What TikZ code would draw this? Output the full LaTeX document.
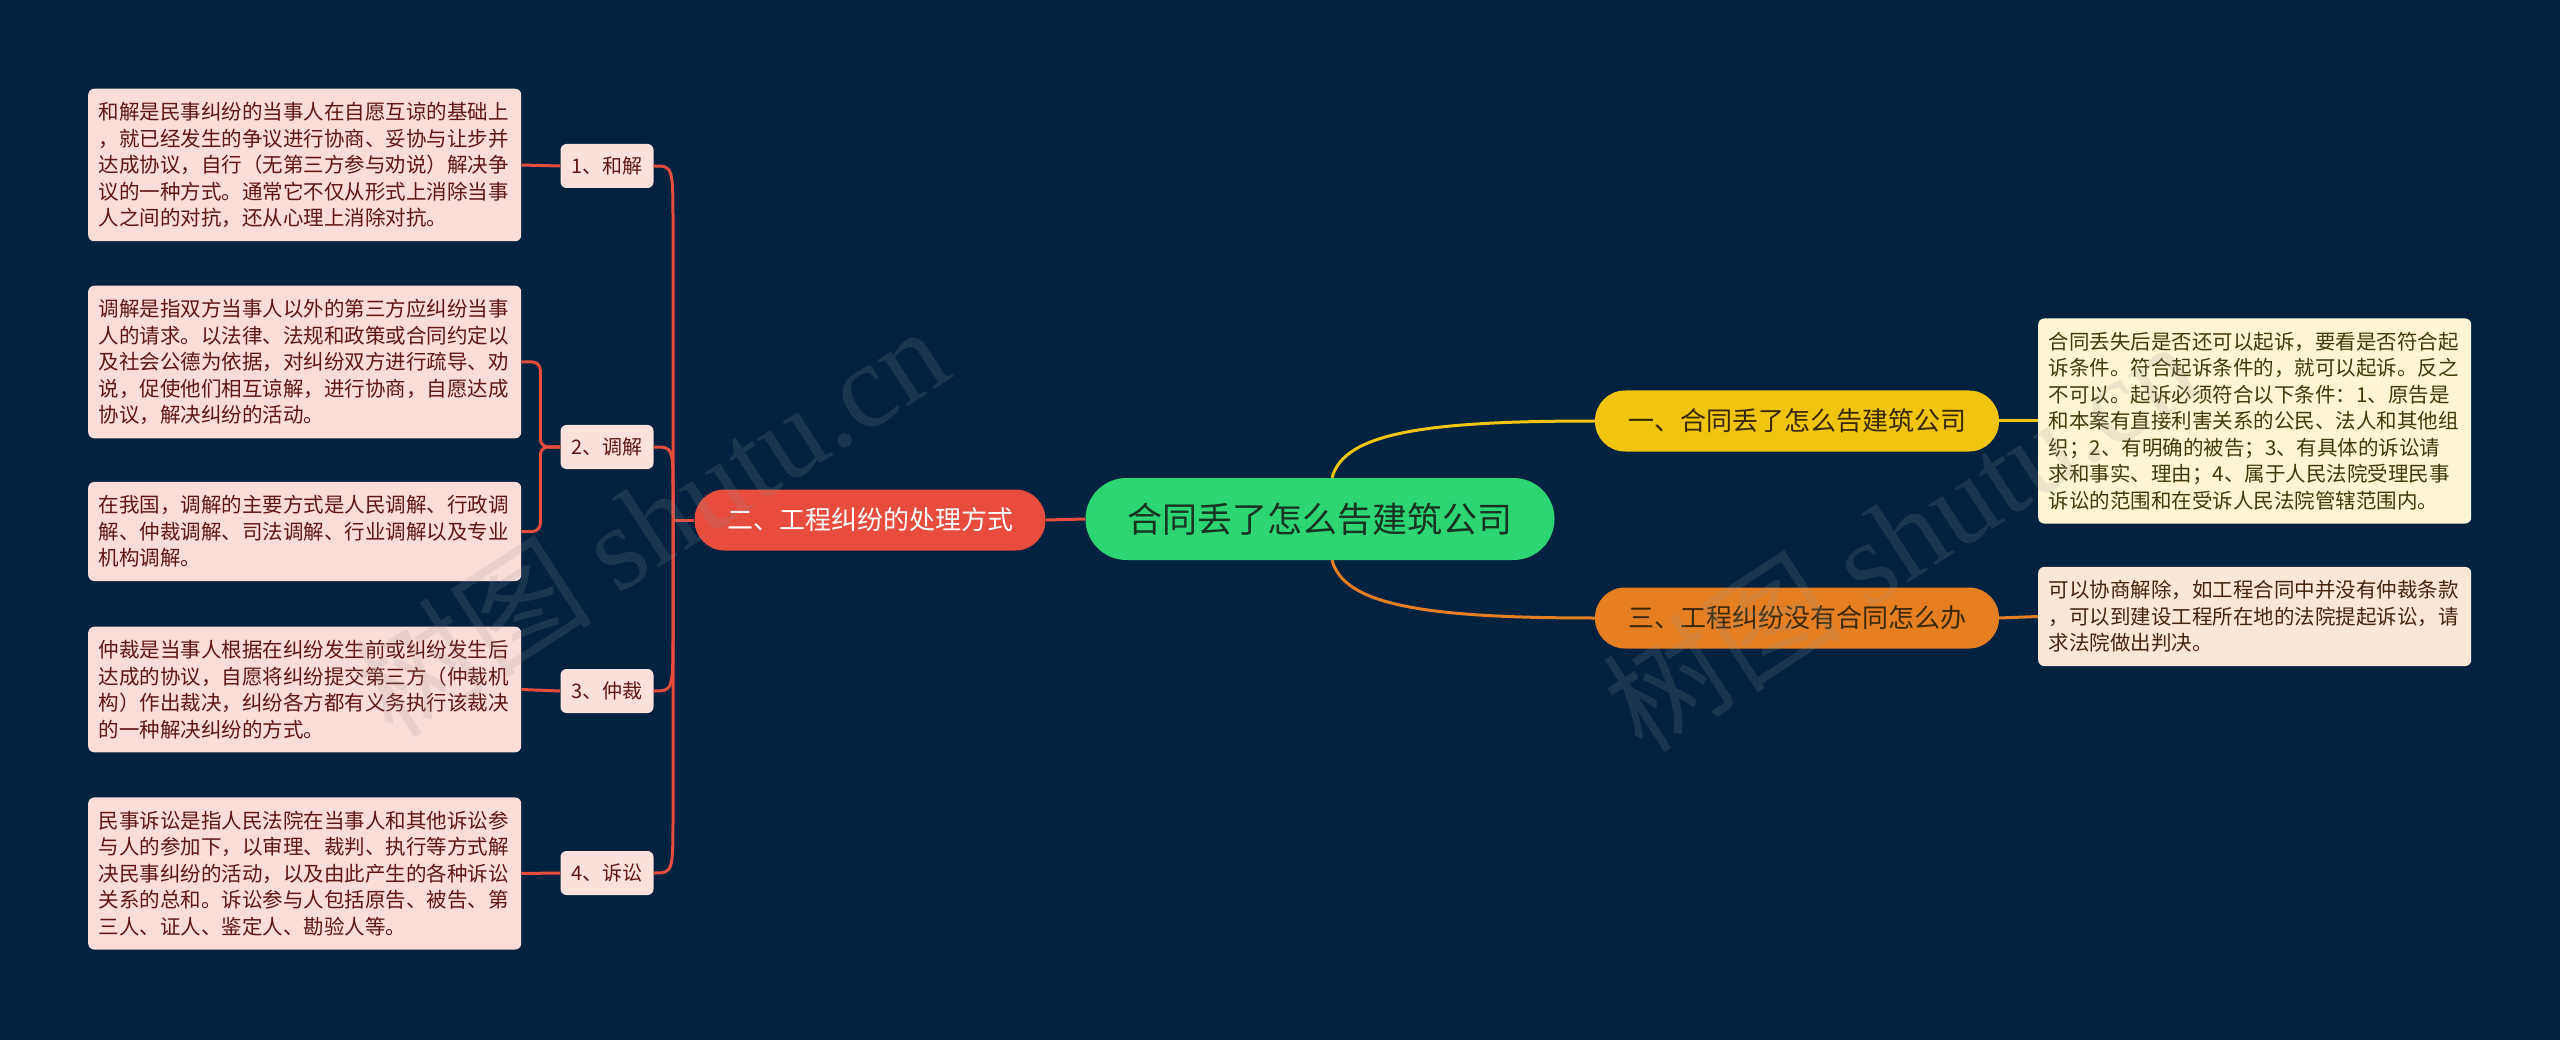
\documentclass[tikz,border=0pt]{standalone}
\usepackage{fontspec}
\setmainfont{Noto Sans CJK SC}
\newfontfamily\wmserif{Liberation Serif}
\usetikzlibrary{calc}

\definecolor{bgnavy}{RGB}{2,34,64}
\definecolor{rootgreen}{RGB}{46,213,115}
\definecolor{roottext}{RGB}{22,52,32}
\definecolor{branchred}{RGB}{231,76,60}
\definecolor{branchyellow}{RGB}{241,196,15}
\definecolor{branchorange}{RGB}{230,126,34}
\definecolor{branchtext}{RGB}{58,40,8}
\definecolor{pinkbox}{RGB}{250,220,216}
\definecolor{pinkleaf}{RGB}{252,224,219}
\definecolor{pinktext}{RGB}{96,22,18}
\definecolor{creambox}{RGB}{253,245,212}
\definecolor{creamtext}{RGB}{68,56,10}
\definecolor{peachbox}{RGB}{251,231,214}
\definecolor{peachtext}{RGB}{70,36,12}
\definecolor{wmgray}{RGB}{150,150,150}

\tikzset{
  rootnode/.style = {fill=rootgreen, text=roottext, rounded corners=41pt,
                     minimum width=469pt, minimum height=82pt, inner sep=0pt,
                     font=\fontsize{35}{40}\selectfont},
  branch/.style   = {fill=#1, rounded corners=30pt, minimum height=61pt,
                     inner sep=0pt, font=\fontsize{26}{30}\selectfont},
  leaf/.style     = {fill=pinkleaf, text=pinktext, rounded corners=6pt,
                     minimum width=93pt, minimum height=44pt, inner sep=0pt,
                     font=\fontsize{20}{24}\selectfont},
  note/.style     = {fill=#1, rounded corners=6pt, text width=412pt, align=left,
                     inner xsep=10.5pt, inner ysep=13.5pt, anchor=west,
                     font=\fontsize{20.5}{26.5}\selectfont},
  redline/.style  = {draw=branchred, line width=3pt},
  yelline/.style  = {draw=branchyellow, line width=3pt},
  oraline/.style  = {draw=branchorange, line width=3pt},
  watermark/.style = {rotate=33, text=wmgray, opacity=0.17,
                     font=\fontsize{120}{120}\selectfont}
}

\begin{document}
\begin{tikzpicture}[x=1pt, y=-1pt]
	\def \lx{88}     % left notes
	\def \rx{2038}   % right notes
	\def \kx{607}    % small keys
	
	% Background
	\fill[bgnavy] (0,0) rectangle (2560,1040);
	
	% Root and branches
	\node[rootnode] (root) at (1320,519) {合同丢了怎么告建筑公司};
	\node[branch=branchred, text=white, minimum width=351pt] (fang) at (870,520) {二、工程纠纷的处理方式};
	\node[branch=branchyellow, text=branchtext, minimum width=404pt] (gao) at (1797,421) {一、合同丢了怎么告建筑公司};
	\node[branch=branchorange, text=branchtext, minimum width=404pt] (ban) at (1797,618) {三、工程纠纷没有合同怎么办};
	
	% Keys
	\node[leaf] (hejie)    at (\kx,166) {1、和解};
	\node[leaf] (tiaojie)  at (\kx,447) {2、调解};
	\node[leaf] (zhongcai) at (\kx,691) {3、仲裁};
	\node[leaf] (susong)   at (\kx,873) {4、诉讼};
	
	% Left notes
	\node[note=pinkbox, text=pinktext] (thejie) at (\lx,165) {和解是民事纠纷的当事人在自愿互谅的基础上\\，就已经发生的争议进行协商、妥协与让步并\\达成协议，自行（无第三方参与劝说）解决争\\议的一种方式。通常它不仅从形式上消除当事\\人之间的对抗，还从心理上消除对抗。};
	\node[note=pinkbox, text=pinktext] (ttiaojiea) at (\lx,362) {调解是指双方当事人以外的第三方应纠纷当事\\人的请求。以法律、法规和政策或合同约定以\\及社会公德为依据，对纠纷双方进行疏导、劝\\说，促使他们相互谅解，进行协商，自愿达成\\协议，解决纠纷的活动。};
	\node[note=pinkbox, text=pinktext] (ttiaojieb) at (\lx,531.5) {在我国，调解的主要方式是人民调解、行政调\\解、仲裁调解、司法调解、行业调解以及专业\\机构调解。};
	\node[note=pinkbox, text=pinktext] (tzhongcai) at (\lx,689.5) {仲裁是当事人根据在纠纷发生前或纠纷发生后\\达成的协议，自愿将纠纷提交第三方（仲裁机\\构）作出裁决，纠纷各方都有义务执行该裁决\\的一种解决纠纷的方式。};
	\node[note=pinkbox, text=pinktext] (tsusong) at (\lx,873.5) {民事诉讼是指人民法院在当事人和其他诉讼参\\与人的参加下，以审理、裁判、执行等方式解\\决民事纠纷的活动，以及由此产生的各种诉讼\\关系的总和。诉讼参与人包括原告、被告、第\\三人、证人、鉴定人、勘验人等。};
	
	% Right notes
	\node[note=creambox, text=creamtext] (tgao) at (\rx,421) {合同丢失后是否还可以起诉，要看是否符合起\\诉条件。符合起诉条件的，就可以起诉。反之\\不可以。起诉必须符合以下条件：1、原告是\\和本案有直接利害关系的公民、法人和其他组\\织；2、有明确的被告；3、有具体的诉讼请\\求和事实、理由；4、属于人民法院受理民事\\诉讼的范围和在受诉人民法院管辖范围内。};
	\node[note=peachbox, text=peachtext] (tban) at (\rx,616.5) {可以协商解除，如工程合同中并没有仲裁条款\\，可以到建设工程所在地的法院提起诉讼，请\\求法院做出判决。};
	
	% Connectors, right
	\draw[yelline] ($(root.north)+(12,0)$) .. controls +(12,-45) and +(-170,0) .. (gao.west);
	\draw[oraline] ($(root.south)+(12,0)$) .. controls +(12,45) and +(-170,0) .. (ban.west);
	\draw[yelline] (gao.east) -- (tgao.west);
	\draw[oraline] (ban.east) -- (tban.west);
	
	% Connectors, left
	\coordinate (jl) at (673,520);
	\draw[redline] (root.west) -- (fang.east);
	\draw[redline] (fang.west) -- (jl);
	\draw[redline] (jl) -- ($(jl|-hejie.east)+(0,60)$) .. controls (jl|-hejie.east) .. (hejie.east);
	\draw[redline] (jl) -- ($(jl|-tiaojie.east)+(0,45)$) .. controls (jl|-tiaojie.east) .. (tiaojie.east);
	\draw[redline] (jl) -- ($(jl|-zhongcai.east)+(0,-60)$) .. controls (jl|-zhongcai.east) .. (zhongcai.east);
	\draw[redline] (jl) -- ($(jl|-susong.east)+(0,-60)$) .. controls (jl|-susong.east) .. (susong.east);
	\draw[redline] (hejie.west) -- (thejie.east);
	\draw[redline] (zhongcai.west) -- (tzhongcai.east);
	\draw[redline] (susong.west) -- (tsusong.east);
	\draw[redline, rounded corners=8pt] (tiaojie.west) -- ++(-20,0) |- (ttiaojiea.east);
	\draw[redline, rounded corners=8pt] (tiaojie.west) -- ++(-20,0) |- (ttiaojieb.east);
	
	% Watermark
	\node[watermark] (wmleft)  at (650,520) {树图 {\wmserif shutu.cn}};
	\node[watermark] (wmright) at (1900,535) {树图 {\wmserif shutu.cn}};
	
\end{tikzpicture}
\end{document}
